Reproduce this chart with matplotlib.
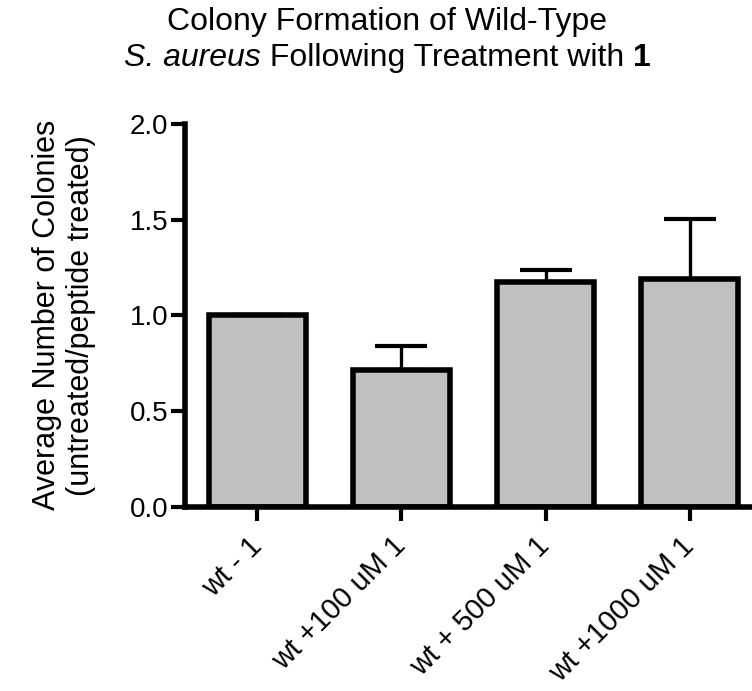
import matplotlib
matplotlib.use('Agg')
import matplotlib.pyplot as plt
import numpy as np

plt.rcParams['font.family'] = ['Liberation Sans', 'DejaVu Sans']

# Dados
grupos = ['wt - 1', 'wt +100 uM 1', 'wt + 500 uM 1', 'wt +1000 uM 1']
medias = [1.0, 0.715, 1.175, 1.19]
erros = [0.0, 0.125, 0.06, 0.315]
yticks = [0.0, 0.5, 1.0, 1.5, 2.0]

fig = plt.figure(figsize=(7.52, 6.91), dpi=100)
ax = fig.add_axes([0.246, 0.2663, 0.754, 0.5547])

x = np.arange(len(grupos))
ax.errorbar(x, medias, yerr=[np.zeros(len(erros)), erros], fmt='none',
            ecolor='black', elinewidth=2.4, capsize=18.7, capthick=3, zorder=1)
ax.bar(x, medias, width=0.667, color='#c0c0c0', edgecolor='black',
       linewidth=4, zorder=2)

ax.set_xlim(-0.5035, 3.434)
ax.set_ylim(0, 2.0)
ax.set_yticks(yticks)
ax.set_yticklabels([f'{v:.1f}' for v in yticks])
ax.set_xticks(x)
ax.set_xticklabels(grupos, rotation=45, ha='right', va='center',
                   rotation_mode='anchor', fontsize=21)

for s in ['top', 'right']:
    ax.spines[s].set_visible(False)
for s in ['left', 'bottom']:
    ax.spines[s].set_linewidth(4)

ax.tick_params(axis='both', direction='out', width=3, length=10)
ax.tick_params(axis='y', pad=2, labelsize=20)
ax.tick_params(axis='x', pad=15)

ax.set_ylabel('Average Number of Colonies\n(untreated/peptide treated)',
              fontsize=22, labelpad=24)

# Título em duas linhas (segunda linha com itálico e negrito)
fig.text(0.515, 0.968, 'Colony Formation of Wild-Type', ha='center',
         va='center', fontsize=23)

partes = [('S. aureus', 'italic', 'normal'),
          (' Following Treatment with ', 'normal', 'normal'),
          ('1', 'normal', 'bold')]
fig.canvas.draw()
renderer = fig.canvas.get_renderer()
textos = []
for txt, estilo, peso in partes:
    t = fig.text(0, 0.916, txt, ha='left', va='center', fontsize=23,
                 style=estilo, weight=peso)
    textos.append(t)
larguras = [t.get_window_extent(renderer).width / fig.bbox.width for t in textos]
x0 = 0.515 - sum(larguras) / 2
for t, w in zip(textos, larguras):
    t.set_x(x0)
    x0 += w

fig.savefig('out.png', dpi=100)
